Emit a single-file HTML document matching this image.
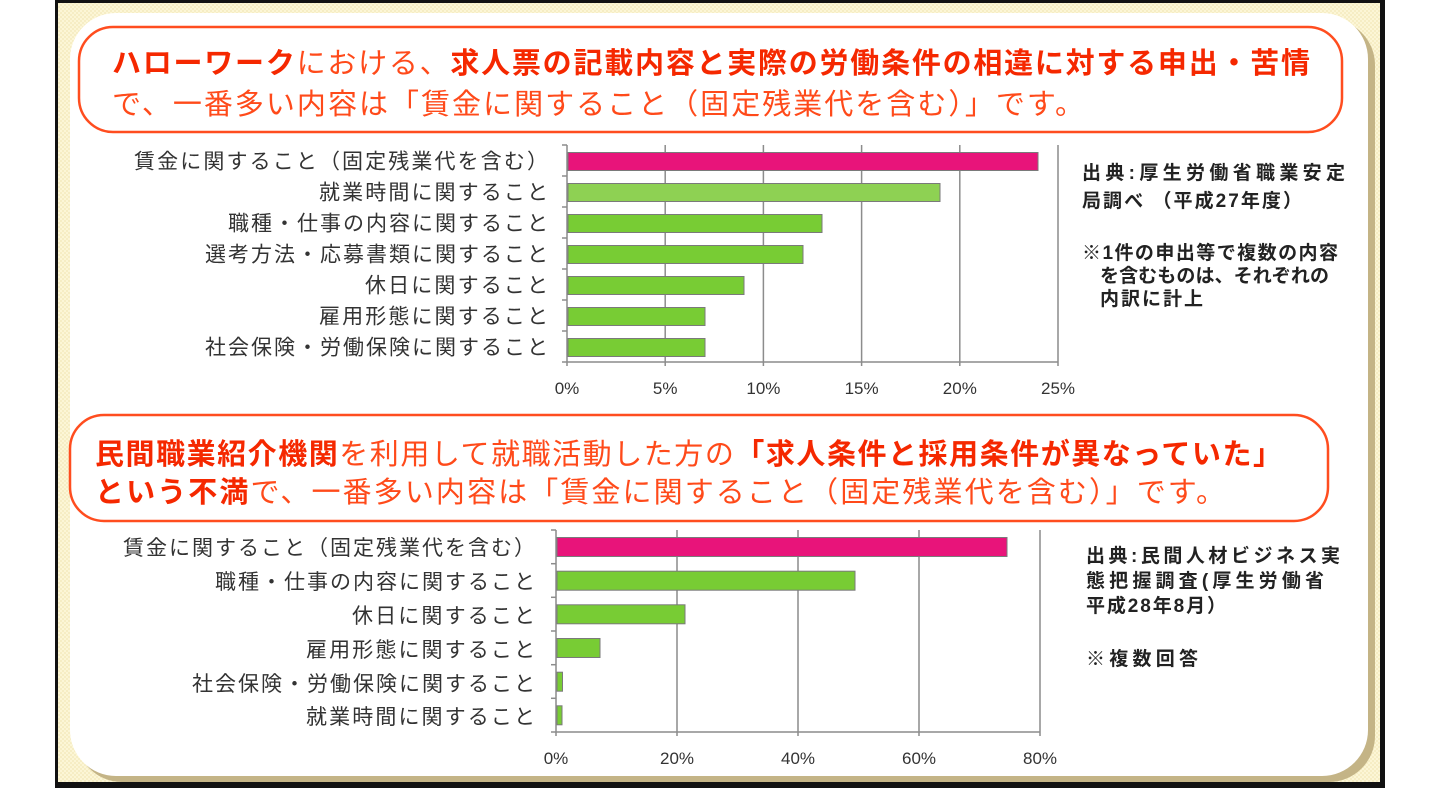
<!DOCTYPE html>
<html>
<head>
<meta charset="utf-8">
<style>
  html,body{margin:0;padding:0;background:#fff;}
  body{width:1440px;height:788px;overflow:hidden;}
  svg{display:block;}
  .ttl{font-family:"Liberation Sans","Noto Sans CJK JP",sans-serif;font-size:29px;}
  .b{font-weight:bold;fill:#f52800;}
  .n{font-weight:normal;fill:#ff4a1a;}
  .lab{font-family:"Liberation Sans","Noto Sans CJK JP",sans-serif;font-size:21px;fill:#333;}
  .tick{font-family:"Liberation Sans",sans-serif;font-size:17px;fill:#333;}
  .src{font-family:"Liberation Sans","Noto Sans CJK JP",sans-serif;font-size:19px;font-weight:bold;fill:#222;}
</style>
</head>
<body>
<svg width="1440" height="788" viewBox="0 0 1440 788" xmlns="http://www.w3.org/2000/svg">
  <defs>
    <pattern id="dots" width="4" height="4" patternUnits="userSpaceOnUse">
      <rect width="4" height="4" fill="#fcf6d6"/>
      <rect width="2" height="2" fill="#f6edc4"/>
      <rect x="2" y="2" width="2" height="2" fill="#f6edc4"/>
    </pattern>
  </defs>

  <rect x="55" y="0" width="1330" height="788" fill="url(#dots)"/>
  <rect x="76" y="19" width="1299" height="763" rx="46" fill="#c4b486"/>
  <rect x="70" y="13" width="1298" height="763" rx="46" fill="#ffffff"/>
  <rect x="55" y="0" width="3" height="788" fill="#111"/>
  <rect x="1380" y="0" width="5" height="788" fill="#111"/>
  <rect x="55" y="0" width="1330" height="3" fill="#111"/>
  <rect x="55" y="782" width="1330" height="6" fill="#111"/>

  <!-- ===== Title box 1 ===== -->
  <rect x="79" y="27" width="1263" height="105" rx="34" fill="#fff" stroke="#ff4d1f" stroke-width="2.5"/>
  <text class="ttl" x="112" y="73" textLength="1198" lengthAdjust="spacing"><tspan class="b">ハローワーク</tspan><tspan class="n">における、</tspan><tspan class="b">求人票の記載内容と実際の労働条件の相違に対する申出・苦情</tspan></text>
  <text class="ttl" x="112" y="114" textLength="972" lengthAdjust="spacing"><tspan class="n">で、一番多い内容は「賃金に関すること（固定残業代を含む）」です。</tspan></text>

  <!-- ===== Chart 1 ===== -->
  <g stroke="#8c8c8c" stroke-width="1.5">
    <line x1="665.2" y1="145" x2="665.2" y2="366"/>
    <line x1="763.4" y1="145" x2="763.4" y2="366"/>
    <line x1="861.6" y1="145" x2="861.6" y2="366"/>
    <line x1="959.8" y1="145" x2="959.8" y2="366"/>
    <line x1="1058" y1="145" x2="1058" y2="366"/>
    <line x1="567" y1="145" x2="567" y2="366"/>
    <line x1="567" y1="362" x2="1058" y2="362"/>
    <line x1="562" y1="145" x2="567" y2="145"/>
    <line x1="562" y1="176" x2="567" y2="176"/>
    <line x1="562" y1="207" x2="567" y2="207"/>
    <line x1="562" y1="238" x2="567" y2="238"/>
    <line x1="562" y1="269" x2="567" y2="269"/>
    <line x1="562" y1="300" x2="567" y2="300"/>
    <line x1="562" y1="331" x2="567" y2="331"/>
    <line x1="562" y1="362" x2="567" y2="362"/>
  </g>
  <g stroke="#7a7a7a" stroke-width="1">
    <rect x="568" y="152.5" width="470" height="18" fill="#e8147a"/>
    <rect x="568" y="183.5" width="372" height="18" fill="#8ed153"/>
    <rect x="568" y="214.5" width="254" height="18" fill="#78cc34"/>
    <rect x="568" y="245.5" width="235" height="18" fill="#78cc34"/>
    <rect x="568" y="276.5" width="176" height="18" fill="#78cc34"/>
    <rect x="568" y="307.5" width="137" height="18" fill="#78cc34"/>
    <rect x="568" y="338.5" width="137" height="18" fill="#78cc34"/>
  </g>
  <g class="lab" text-anchor="end">
    <text x="548" y="168.5" textLength="414" lengthAdjust="spacing">賃金に関すること（固定残業代を含む）</text>
    <text x="548" y="199.5" textLength="229" lengthAdjust="spacing">就業時間に関すること</text>
    <text x="548" y="230.5" textLength="320" lengthAdjust="spacing">職種・仕事の内容に関すること</text>
    <text x="548" y="261.5" textLength="343" lengthAdjust="spacing">選考方法・応募書類に関すること</text>
    <text x="548" y="292.5" textLength="183" lengthAdjust="spacing">休日に関すること</text>
    <text x="548" y="323.5" textLength="229" lengthAdjust="spacing">雇用形態に関すること</text>
    <text x="548" y="354.5" textLength="343" lengthAdjust="spacing">社会保険・労働保険に関すること</text>
  </g>
  <g class="tick" text-anchor="middle">
    <text x="567" y="394">0%</text>
    <text x="665.2" y="394">5%</text>
    <text x="763.4" y="394">10%</text>
    <text x="861.6" y="394">15%</text>
    <text x="959.8" y="394">20%</text>
    <text x="1058" y="394">25%</text>
  </g>
  <g class="src">
    <text x="1082" y="179" textLength="263" lengthAdjust="spacing">出典:厚生労働省職業安定</text>
    <text x="1082" y="207" textLength="220" lengthAdjust="spacing">局調べ （平成27年度）</text>
    <text x="1082" y="259" textLength="256" lengthAdjust="spacing">※1件の申出等で複数の内容</text>
    <text x="1100" y="282" textLength="229" lengthAdjust="spacing">を含むものは、それぞれの</text>
    <text x="1100" y="305" textLength="103" lengthAdjust="spacing">内訳に計上</text>
  </g>

  <!-- ===== Title box 2 ===== -->
  <rect x="70" y="415" width="1258" height="106" rx="34" fill="#fff" stroke="#ff4d1f" stroke-width="2.5"/>
  <text class="ttl" x="95" y="464" textLength="1187" lengthAdjust="spacing"><tspan class="b">民間職業紹介機関</tspan><tspan class="n">を利用して就職活動した方の</tspan><tspan class="b">「求人条件と採用条件が異なっていた」</tspan></text>
  <text class="ttl" x="95" y="502" textLength="1130" lengthAdjust="spacing"><tspan class="b">という不満</tspan><tspan class="n">で、一番多い内容は「賃金に関すること（固定残業代を含む）」です。</tspan></text>

  <!-- ===== Chart 2 ===== -->
  <g stroke="#8c8c8c" stroke-width="1.5">
    <line x1="677" y1="530" x2="677" y2="736"/>
    <line x1="798" y1="530" x2="798" y2="736"/>
    <line x1="919" y1="530" x2="919" y2="736"/>
    <line x1="1040" y1="530" x2="1040" y2="736"/>
    <line x1="556" y1="530" x2="556" y2="736"/>
    <line x1="556" y1="732" x2="1040" y2="732"/>
    <line x1="551" y1="530" x2="556" y2="530"/>
    <line x1="551" y1="563.7" x2="556" y2="563.7"/>
    <line x1="551" y1="597.3" x2="556" y2="597.3"/>
    <line x1="551" y1="631" x2="556" y2="631"/>
    <line x1="551" y1="664.7" x2="556" y2="664.7"/>
    <line x1="551" y1="698.3" x2="556" y2="698.3"/>
    <line x1="551" y1="732" x2="556" y2="732"/>
  </g>
  <g stroke="#7a7a7a" stroke-width="1">
    <rect x="557" y="537.5" width="450" height="19" fill="#e8147a"/>
    <rect x="557" y="571.2" width="298" height="19" fill="#78cc34"/>
    <rect x="557" y="604.8" width="128" height="19" fill="#78cc34"/>
    <rect x="557" y="638.5" width="43" height="19" fill="#78cc34"/>
    <rect x="557" y="672.2" width="5.5" height="19" fill="#78cc34"/>
    <rect x="557" y="705.8" width="5" height="19" fill="#78cc34"/>
  </g>
  <g class="lab" text-anchor="end">
    <text x="535" y="555" textLength="412" lengthAdjust="spacing">賃金に関すること（固定残業代を含む）</text>
    <text x="535" y="589" textLength="320" lengthAdjust="spacing">職種・仕事の内容に関すること</text>
    <text x="535" y="623" textLength="183" lengthAdjust="spacing">休日に関すること</text>
    <text x="535" y="657" textLength="229" lengthAdjust="spacing">雇用形態に関すること</text>
    <text x="535" y="691" textLength="343" lengthAdjust="spacing">社会保険・労働保険に関すること</text>
    <text x="535" y="724" textLength="229" lengthAdjust="spacing">就業時間に関すること</text>
  </g>
  <g class="tick" text-anchor="middle">
    <text x="556" y="764">0%</text>
    <text x="677" y="764">20%</text>
    <text x="798" y="764">40%</text>
    <text x="919" y="764">60%</text>
    <text x="1040" y="764">80%</text>
  </g>
  <g class="src">
    <text x="1086" y="562" textLength="254" lengthAdjust="spacing">出典:民間人材ビジネス実</text>
    <text x="1086" y="587" textLength="238" lengthAdjust="spacing">態把握調査(厚生労働省</text>
    <text x="1086" y="612" textLength="140" lengthAdjust="spacing">平成28年8月）</text>
    <text x="1086" y="665" textLength="112" lengthAdjust="spacing">※複数回答</text>
  </g>
</svg>
</body>
</html>
